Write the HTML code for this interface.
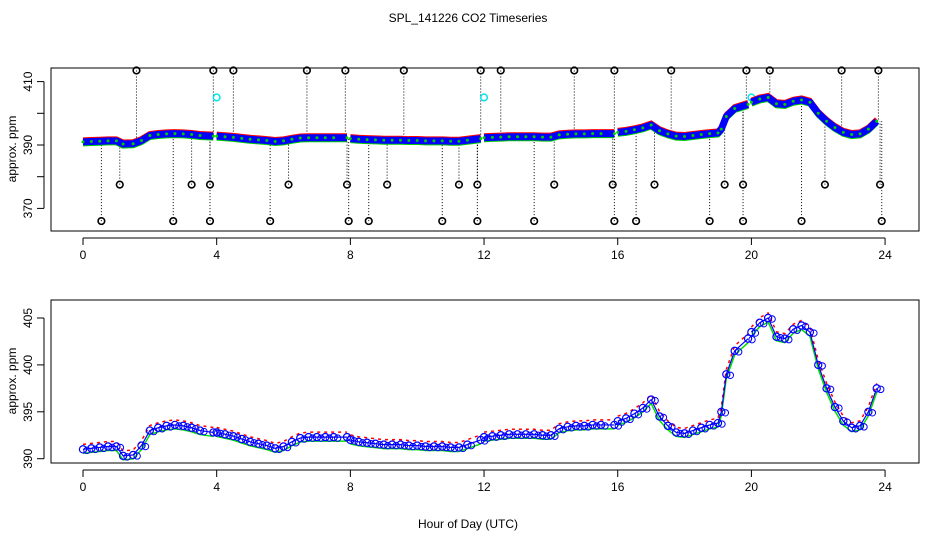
<!DOCTYPE html>
<html><head><meta charset="utf-8"><style>
body{margin:0;background:#fff}
svg{display:block;font-family:"Liberation Sans",sans-serif}
</style></head><body>
<svg id="c" width="936" height="540" viewBox="0 0 936 540">
<text x="468" y="22" font-size="12" text-anchor="middle">SPL_141226  CO2 Timeseries</text>
<text x="468" y="528" font-size="12" text-anchor="middle">Hour of Day (UTC)</text>
<text transform="translate(16,149) rotate(-90)" font-size="12" text-anchor="middle">approx. ppm</text>
<text transform="translate(16,381) rotate(-90)" font-size="12" text-anchor="middle">approx. ppm</text>
<g id="top"></g>
<g id="bot"></g>
</svg>
<script>
const hours=[0,0.25,0.5,0.75,1,1.2,1.5,1.75,2,2.25,2.5,2.75,3,3.25,3.5,3.9,4.0,4.25,4.5,4.75,5,5.25,5.5,5.75,6,6.25,6.5,6.75,7,7.25,7.5,7.9,8.0,8.25,8.5,8.75,9,9.25,9.5,9.75,10,10.25,10.5,10.75,11,11.25,11.5,11.9,12.0,12.25,12.5,12.75,13,13.25,13.5,13.75,14,14.25,14.5,14.75,15,15.25,15.5,15.9,16.0,16.25,16.5,16.75,17,17.25,17.5,17.75,18,18.25,18.5,18.75,19,19.1,19.25,19.5,19.9,20.0,20.25,20.5,20.75,21,21.25,21.5,21.75,22,22.25,22.5,22.75,23,23.25,23.5,23.75];
const co2=[391,391.1,391.2,391.3,391.3,390.3,390.4,391.4,393,393.3,393.5,393.6,393.5,393.3,393,392.8,392.8,392.6,392.4,392.1,391.8,391.6,391.4,391.1,391.3,391.8,392.2,392.3,392.3,392.3,392.3,392.3,392,391.8,391.7,391.6,391.5,391.5,391.5,391.4,391.4,391.3,391.3,391.3,391.2,391.2,391.5,392,392.3,392.4,392.5,392.6,392.6,392.6,392.6,392.5,392.5,393.2,393.4,393.5,393.5,393.6,393.6,393.6,394,394.3,394.8,395.4,396.3,394.5,393.5,392.8,392.7,393,393.3,393.6,393.8,395,399,401.5,402.8,403.5,404.5,405,403,402.8,403.8,404.2,403.5,400,397.5,395.5,394,393.3,393.5,395,397.5];
const gapAfter=[3.9,7.9,11.9,15.9,19.9];
const hiHours=[1.6,3.9,4.5,6.7,7.85,9.6,11.9,12.5,14.7,15.9,17.6,19.85,20.55,22.7,23.8];
const midHours=[1.1,3.25,3.8,6.15,7.9,9.1,11.25,11.8,14.1,15.85,17.1,19.2,19.75,22.2,23.85];
const loHours=[0.55,2.7,3.8,5.6,7.95,8.55,10.75,11.8,13.5,15.9,16.55,18.75,19.75,21.5,23.9];
const outVals=[413.5,377.5,366];
const cyanHours=[4.0,12.0,20.0];
const cyanVal=405;
const xTicks=[0,4,8,12,16,20,24];
const topYTicks=[370,380,390,400,410];
const topYLabels=[370,390,410];
const botYTicks=[390,395,400,405];

const NS="http://www.w3.org/2000/svg";
function mk(p,t,a){const e=document.createElementNS(NS,t);for(const k in a)e.setAttribute(k,a[k]);p.appendChild(e);return e;}
const X=h=>83+h*33.42;
const Yt=v=>145-(v-390)*3.17;
const Yb=v=>458.7-(v-390)*9.38;
function segs(){const s=[];let cur=[];hours.forEach((h,i)=>{cur.push([h,co2[i]]);if(gapAfter.includes(h)){s.push(cur);cur=[];}});if(cur.length)s.push(cur);return s;}
function interp(h){for(let i=0;i<hours.length-1;i++){if(h>=hours[i]&&h<=hours[i+1]){const t=(h-hours[i])/(hours[i+1]-hours[i]);return co2[i]+t*(co2[i+1]-co2[i]);}}return co2[co2.length-1];}
function axes(g,top,bot,yTicks,yLabels,Y){
 const b=mk(g,'rect',{x:51,y:top,width:868,height:bot-top,fill:'none',stroke:'#000'});
 
 
 const ax=mk(g,'line',{x1:X(0),x2:X(24),y1:bot+7,y2:bot+7,stroke:'#000'});
 
 
 xTicks.forEach(t=>{mk(g,'line',{x1:X(t),x2:X(t),y1:bot+7,y2:bot+14,stroke:'#000'});
  const tx=mk(g,'text',{x:X(t),y:bot+28,'font-size':12,'text-anchor':'middle'});tx.textContent=t;
  
  });
 const ya=mk(g,'line',{x1:44,x2:44,y1:Y(yTicks[0]),y2:Y(yTicks[yTicks.length-1]),stroke:'#000'});
 
 
 yTicks.forEach(t=>mk(g,'line',{x1:37,x2:44,y1:Y(t),y2:Y(t),stroke:'#000'}));
 yLabels.forEach(t=>{const tx=mk(g,'text',{transform:`translate(32,${Y(t)}) rotate(-90)`,'font-size':12,'text-anchor':'middle'});tx.textContent=t;
  
  });
}
// top panel
const gt=document.getElementById('top');
axes(gt,68,231,topYTicks,topYLabels,Yt);
[[hiHours,outVals[0]],[midHours,outVals[1]],[loHours,outVals[2]]].forEach(([hs,v])=>{
 hs.forEach(h=>{const s=interp(h);
  mk(gt,'line',{x1:X(h),x2:X(h),y1:Yt(v),y2:Yt(s),stroke:'#000','stroke-dasharray':'1,2'});
  const c=mk(gt,'circle',{cx:X(h),cy:Yt(v),r:3.3,fill:'none',stroke:'#000','stroke-width':1.6});
  
  });
});
cyanHours.forEach(h=>{const c=mk(gt,'circle',{cx:X(h),cy:Yt(cyanVal),r:3.3,fill:'none',stroke:'#00e5ee','stroke-width':1.5});
 
 });
segs().forEach(sg=>{
 const pts=dy=>sg.map(p=>X(p[0])+','+(Yt(p[1])+dy)).join(' ');
 mk(gt,'polyline',{points:pts(-2),fill:'none',stroke:'#ff0000','stroke-width':5});
 mk(gt,'polyline',{points:pts(2),fill:'none',stroke:'#00cc00','stroke-width':5});
 const l=mk(gt,'polyline',{points:pts(0),fill:'none',stroke:'#0000ff','stroke-width':7,'stroke-linejoin':'round'});
 
 
 sg.forEach(p=>mk(gt,'circle',{cx:X(p[0]),cy:Yt(p[1]),r:1.5,fill:'#00cc00'}));
});
// bottom panel
const gb=document.getElementById('bot');
axes(gb,300,463,botYTicks,botYTicks,Yb);
segs().forEach(sg=>{
 const pts=(dx,dy)=>sg.map(p=>(X(p[0])+dx)+','+(Yb(p[1])+dy)).join(' ');
 mk(gb,'polyline',{points:pts(0,-5),fill:'none',stroke:'#ff0000','stroke-width':1.5,'stroke-dasharray':'3,4'});
 mk(gb,'polyline',{points:pts(0,4),fill:'none',stroke:'#00dd00','stroke-width':1.5});
 const l=mk(gb,'polyline',{points:pts(0,0),fill:'none',stroke:'#0000ff','stroke-width':1.2});
 
 
 sg.forEach(p=>{const c=mk(gb,'circle',{cx:X(p[0]),cy:Yb(p[1]),r:3.6,fill:'none',stroke:'#0000ff','stroke-width':1.2});
  
  
  mk(gb,'circle',{cx:X(p[0])+4,cy:Yb(p[1])+1,r:3.2,fill:'none',stroke:'#0000ff','stroke-width':1});});
});
</script>
</body></html>
